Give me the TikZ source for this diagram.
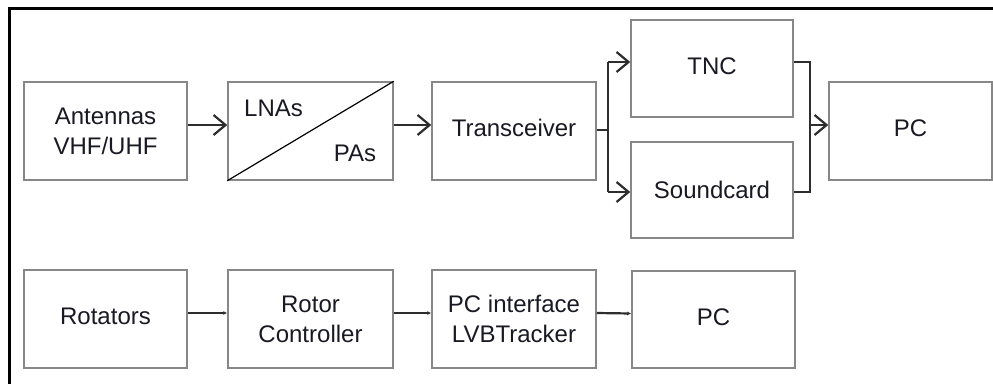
\documentclass[tikz,border=0pt]{standalone}
\usepackage{fontspec}
\setmainfont{Liberation Sans}
\usetikzlibrary{arrows.meta}
\definecolor{boxgray}{RGB}{135,135,135}
\definecolor{linegray}{RGB}{45,45,45}
\definecolor{txt}{RGB}{25,25,35}
\begin{document}
\begin{tikzpicture}[x=1pt,y=-1pt,
  blk/.style={draw=boxgray, line width=1.5pt, minimum width=163pt, minimum height=98pt,
    inner sep=0pt, align=center, text=txt, font=\fontsize{24}{30}\selectfont},
  up/.style={text height=17pt, text depth=6pt},
  lbl/.style={inner sep=0pt, text=txt, font=\fontsize{24}{30}\selectfont},
  arr/.style={draw=linegray, line width=2.2pt, -{Straight Barb[length=12pt,width=20pt]}},
  ln/.style={draw=linegray, line width=2.2pt},
  tarr/.style={draw=linegray, line width=2.2pt, -{Latex[length=4pt,width=4pt]}}
]
\useasboundingbox (0,0) rectangle (993,383);
% outer frame
\draw[line width=3pt, black] (9,390) -- (9,8) -- (1000,8);

% row 1
\node[blk] (ant) at (105.5,131) {Antennas\\VHF/UHF};
\node[blk, minimum width=165pt] (lna) at (310.5,131) {};
\draw[black, line width=1.2pt] (lna.south west) -- (lna.north east);
\node[lbl] (lnat) at (273.5,108) {LNAs};
\node[lbl] (pat) at (355,153) {PAs};
\node[blk, up, minimum width=164pt] (trx) at (514,131) {Transceiver};
\node[blk, up, minimum width=162pt, minimum height=97pt] (tnc) at (712,68.5) {TNC};
\node[blk, minimum width=162pt, minimum height=96pt] (snd) at (712,190) {Soundcard};
\node[blk, up] (pc1) at (910.5,131) {PC};

\draw[arr] ([yshift=6pt]ant.east) -- ([yshift=6pt]lna.west);
\draw[arr] ([yshift=6pt]lna.east) -- ([yshift=6pt]trx.west);

\coordinate (tncin) at ([yshift=6.5pt]tnc.west);
\coordinate (sndin) at ([yshift=-2pt]snd.west);
\draw[ln] ([yshift=1pt]trx.east) -- ++(11,0) coordinate (split);
\draw[arr] (split |- tncin) -- (tncin);
\draw[arr] (split |- sndin) -- (sndin);
\draw[ln] (split |- tncin) -- (split |- sndin);

\coordinate (tncout) at ([yshift=6.5pt]tnc.east);
\coordinate (sndout) at ([yshift=-2pt]snd.east);
\coordinate (pcin) at ([yshift=6pt]pc1.west);
\draw[ln] (tncout) -- ++(16,0) coordinate (merge) -- (merge |- sndout) -- (sndout);
\draw[arr] (merge |- pcin) -- (pcin);

% row 2
\node[blk, up] (rot) at (105.5,319) {Rotators};
\node[blk, minimum width=165pt] (rc) at (310.5,319) {Rotor\\Controller};
\node[blk, minimum width=164pt] (pci) at (514,319) {PC interface\\LVBTracker};
\node[blk, up, minimum height=97pt] (pc2) at (713.5,319.5) {PC};

\draw[tarr] ([yshift=6pt]rot.east) -- ([yshift=6pt]rc.west);
\draw[tarr] ([yshift=6pt]rc.east) -- ([yshift=6pt]pci.west);
\draw[tarr] ([yshift=6pt]pci.east) -- ([yshift=6pt]pc2.west);
\end{tikzpicture}
\end{document}
